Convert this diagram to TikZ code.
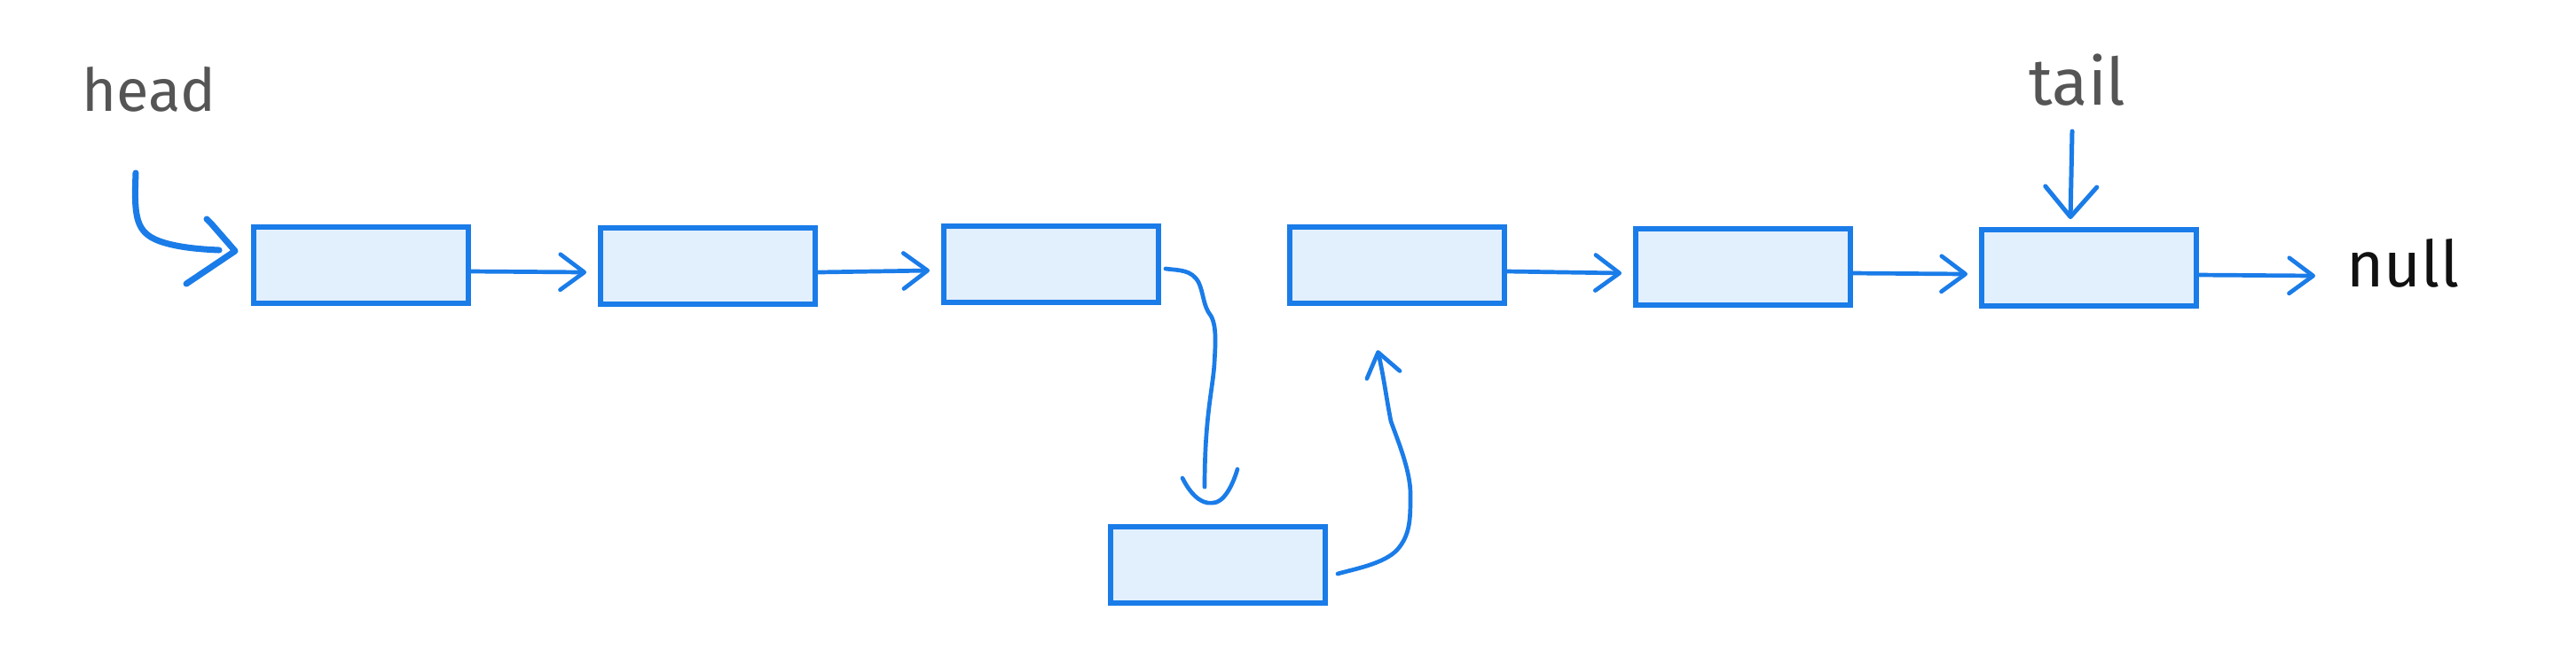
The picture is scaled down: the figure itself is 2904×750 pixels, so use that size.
\documentclass[tikz,border=0pt]{standalone}
\usepackage{fontspec}
\setmainfont{Fira Sans}
\usetikzlibrary{arrows.meta,calc}
\definecolor{lnk}{HTML}{1A7CE8}
\definecolor{cellfill}{HTML}{E2EFFD}
\definecolor{lblgray}{HTML}{555555}
\definecolor{lblblack}{HTML}{111111}
\begin{document}
\begin{tikzpicture}[x=0.01cm,y=-0.01cm,
  cell/.style={draw=lnk, fill=cellfill, line width=0.058cm, minimum width=2.42cm, minimum height=0.86cm, inner sep=0pt},
  conn/.style={draw=lnk, line width=0.047cm, line cap=round, line join=round},
  tipA/.style={-{Straight Barb[length=2.7mm,width=4mm,round]}},
  lbltext/.style={inner sep=0pt, font=\fontsize{19pt}{19pt}\selectfont}
]
\fill[white] (0,0) rectangle (2904,750);
\useasboundingbox (0,0) rectangle (2904,750);

% cells
\node[cell] (b1) at (407,299) {};
\node[cell] (b2) at (798,300) {};
\node[cell] (b3) at (1185,298) {};
\node[cell] (b4) at (1575,299) {};
\node[cell] (b5) at (1965,301) {};
\node[cell] (b6) at (2355,302) {};
\node[cell] (b7) at (1373,637) {};

% labels
\node[lbltext, text=lblgray, anchor=base] (hd) at (168,125) {head};
\node[lbltext, text=lblgray, anchor=base, font=\fontsize{21pt}{21pt}\selectfont] (tl) at (2342,118) {tail};
\node[lbltext, text=lblblack, anchor=base west, font=\fontsize{20.5pt}{20.5pt}\selectfont] (nl) at (2645,323) {null};

% straight links
\draw[conn,tipA] ([yshift=-0.07cm]b1.east) -- ([xshift=-0.13cm,yshift=-0.07cm]b2.west);
\draw[conn,tipA] ([yshift=-0.07cm]b2.east) -- ([xshift=-0.13cm,yshift=-0.07cm]b3.west);
\draw[conn,tipA] ([yshift=-0.07cm]b4.east) -- ([xshift=-0.13cm,yshift=-0.07cm]b5.west);
\draw[conn,tipA] ([yshift=-0.07cm]b5.east) -- ([xshift=-0.13cm,yshift=-0.07cm]b6.west);
\draw[conn,tipA] ([yshift=-0.08cm]b6.east) -- ($(nl.base west)+(-35,-12)$);

% head pointer
\coordinate (hs) at ($(hd.base)+(-15,70)$);
\coordinate (ht) at ($(b1.west)+(-18,-16)$);
\draw[conn, line width=0.07cm] (hs) .. controls (151,245) and (153,262) .. (180,272)
  .. controls (200,279) and (225,281) .. ($(ht)+(-18,-1)$);
\draw[conn, line width=0.07cm] ($(ht)+(-32,-36)$) -- ($(ht)+(-27,-31)$) -- (ht) -- ($(ht)+(-55,37)$);

% tail pointer
\coordinate (ts) at ($(tl.base)+(-6,30)$);
\draw[conn, line width=0.05cm, -{Straight Barb[length=3.4mm,width=5.8mm,round]}] (ts) -- ($(b6.north)+(-21,-9)$);

% detour b3 -> b7
\coordinate (u) at ($(b7.north)+(-6,-24)$);
\draw[conn] ([xshift=0.05cm,yshift=-0.05cm]b3.east) .. controls (1330,305) and (1343,304) .. (1351,318)
  .. controls (1357,330) and (1356,345) .. (1365,356)
  .. controls (1372,368) and (1370,390) .. (1369,410)
  .. controls (1367,440) and (1358,470) .. ($(u)+(-9,-18)$);
\draw[conn] ($(u)+(-34,-28)$) .. controls ($(u)+(-26,-12)$) and ($(u)+(-14,2)$) .. (u)
  .. controls ($(u)+(12,0)$) and ($(u)+(22,-18)$) .. ($(u)+(28,-38)$);

% detour b7 -> b4
\coordinate (v) at ($(b4.south)+(-22,50)$);
\draw[conn, -{Straight Barb[length=2.6mm,width=3.8mm,round]}] ([xshift=0.11cm,yshift=-0.10cm]b7.east)
  .. controls (1525,642) and (1560,636) .. (1575,620)
  .. controls (1590,603) and (1590,585) .. (1590,557)
  .. controls (1590,530) and (1575,495) .. (1568,475)
  .. controls (1563,450) and (1560,425) .. (v);
\end{tikzpicture}
\end{document}
